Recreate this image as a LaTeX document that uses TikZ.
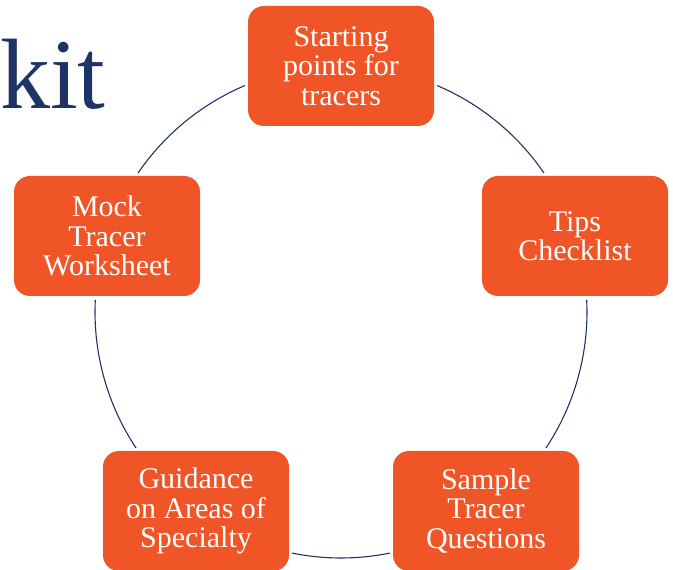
\documentclass[tikz,border=0pt]{standalone}
\usepackage{fontspec}
\setmainfont{Liberation Serif}
\definecolor{boxorange}{HTML}{F05527}
\definecolor{navy}{HTML}{1F3466}
\tikzstyle{topic} = [rectangle, rounded corners=16pt, fill=boxorange, text=white, minimum width=186pt, minimum height=120pt, inner sep=0pt, align=center, font=\fontsize{30}{29.5}\selectfont]
\tikzstyle{ring} = [draw=navy, line width=1.1pt]

\begin{document}
\begin{tikzpicture}[x=1pt,y=1pt]
       \useasboundingbox (0,0) rectangle (673,570);
       \node[anchor=base west, text=navy, inner sep=0pt, font=\fontsize{100}{100}\selectfont] (title) at (0,461) {kit};

       \coordinate (ctr) at (341,258);
       \node[topic] (start) at (341,504) {Starting\\points for\\tracers};
       \node[topic] (tips) at (575,334) {Tips\\Checklist};
       \node[topic] (sample) at (486,59) {Sample\\Tracer\\Questions};
       \node[topic] (guide) at (196,59) {Guidance\\on Areas of\\Specialty};
       \node[topic] (mock) at (107,334) {Mock\\Tracer\\Worksheet};

       \foreach \a/\b in {67/34.4, 2.8/-33.6, -78.5/-101.5, 213.6/177.2, 145.6/113}
          \draw[ring] (ctr) ++(\a:246) arc[start angle=\a, end angle=\b, radius=246];
     \end{tikzpicture}
\end{document}
